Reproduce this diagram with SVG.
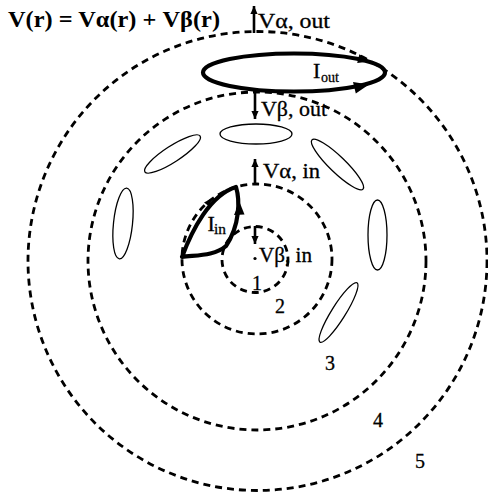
<svg xmlns="http://www.w3.org/2000/svg" width="488" height="494" viewBox="0 0 488 494">
<defs>
<style>
.ring{fill:none;stroke:#000;stroke-width:2.8;stroke-dasharray:7 5}
.cell{fill:none;stroke:#000;stroke-width:1.3}
.loop{fill:none;stroke:#000;stroke-width:4.2;stroke-linejoin:round}
.head{fill:#000;stroke:none}
.arr{fill:none;stroke:#000;stroke-width:2.6}
text{font-family:"Liberation Serif","Times New Roman",serif;fill:#000;stroke:#000;stroke-width:0.3}
.lbl{font-size:21px}
.num{font-size:20px}
.big{font-size:22px}
.sub{font-size:15px}
.title{font-size:24px;font-weight:bold;stroke-width:0}
</style>
<marker id="ah" viewBox="0 0 10 10" refX="10" refY="5" markerWidth="8" markerHeight="8" markerUnits="userSpaceOnUse" orient="auto"><path d="M0,0.5 L10,5 L0,9.5 z" fill="#000"/></marker>
</defs>
<rect width="488" height="494" fill="#fff"/>

<g id="title"><text class="title" x="8" y="27" textLength="212" lengthAdjust="spacingAndGlyphs">V(r) = Vα(r) + Vβ(r)</text></g>

<g id="rings">
<circle id="ring1" class="ring" cx="255" cy="259.5" r="33"/>
<circle id="ring2" class="ring" cx="257" cy="259" r="75"/>
<circle id="ring3" class="ring" cx="257" cy="261" r="169"/>
<circle id="ring4" class="ring" cx="257.5" cy="261" r="229.5"/>
</g>

<g id="cells">
<ellipse id="cell-top" class="cell" cx="256" cy="134" rx="36" ry="10"/>
<ellipse id="cell-ul" class="cell" cx="0" cy="0" rx="33" ry="8" transform="translate(172.5,154) rotate(-33)"/>
<ellipse id="cell-ur" class="cell" cx="0" cy="0" rx="35.5" ry="8" transform="translate(337.5,164.5) rotate(44)"/>
<ellipse id="cell-left" class="cell" cx="0" cy="0" rx="9.5" ry="35.5" transform="translate(123,223.5) rotate(6)"/>
<ellipse id="cell-right" class="cell" cx="377.5" cy="235" rx="9.5" ry="35"/>
<ellipse id="cell-lr" class="cell" cx="0" cy="0" rx="35" ry="7" transform="translate(338.5,312.5) rotate(-58)"/>
</g>

<g id="loop-out">
<ellipse class="loop" cx="294" cy="72.5" rx="91" ry="19"/>
<polygon class="head" points="370,61.5 359.4,54.3 357.2,63.1"/>
<polygon class="head" points="369,84.5 353,82 355.8,93.6"/>
<text class="big" x="313" y="78">I</text><text class="sub" x="321" y="82" textLength="18" lengthAdjust="spacingAndGlyphs">out</text>
</g>

<g id="loop-in">
<path class="loop" d="M182,257 C192,230 210,195 236,187 C240,200 240,225 226,246 C215,256 195,255 182,257 Z"/>
<polygon class="head" points="239.5,202 234,215 244.5,214.5"/>
<polygon class="head" points="211.5,198.5 204,202.5 209.6,206.7"/>
<text class="big" x="207.5" y="231">I</text><text class="sub" x="214" y="234" textLength="12" lengthAdjust="spacingAndGlyphs">in</text>
</g>

<g id="connectors">
<line class="arr" x1="254" y1="33" x2="254" y2="6" marker-end="url(#ah)"/>
<line class="arr" x1="255" y1="91" x2="255" y2="119" marker-end="url(#ah)"/>
<line class="arr" x1="255" y1="185" x2="255" y2="159" marker-end="url(#ah)"/>
<line class="arr" x1="255" y1="226" x2="255" y2="244" marker-end="url(#ah)"/>
</g>

<g id="labels">
<text class="lbl" x="258" y="28" textLength="72" lengthAdjust="spacingAndGlyphs">Vα, out</text>
<text class="lbl" x="261" y="116" textLength="66" lengthAdjust="spacingAndGlyphs">Vβ, out</text>
<text class="lbl" x="263" y="178" textLength="57" lengthAdjust="spacingAndGlyphs">Vα, in</text>
<text class="lbl" x="259" y="262" textLength="53" lengthAdjust="spacingAndGlyphs">Vβ, in</text>
<circle cx="255" cy="258.5" r="1.6" fill="#000"/>
<text class="num" x="252" y="290">1</text>
<text class="num" x="275" y="313">2</text>
<text class="num" x="325" y="370">3</text>
<text class="num" x="373" y="427">4</text>
<text class="num" x="415" y="468">5</text>
</g>
</svg>
